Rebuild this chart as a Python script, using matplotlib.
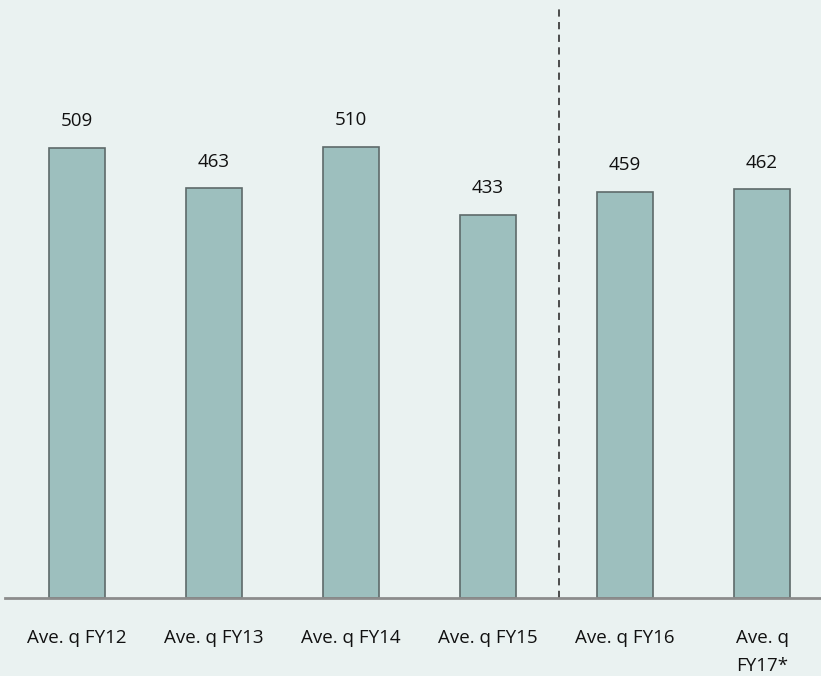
import matplotlib.pyplot as plt

categorias = ['Ave. q FY12', 'Ave. q FY13', 'Ave. q FY14', 'Ave. q FY15', 'Ave. q FY16', 'Ave. q\nFY17*']
valores = [509, 463, 510, 433, 459, 462]

plt.rcParams['font.family'] = ['Open Sans', 'DejaVu Sans']

fondo = '#EAF2F1'
fig = plt.figure(figsize=(8.21, 6.76), dpi=100, facecolor=fondo)
ax = fig.add_axes([5 / 821, 78 / 676, 816 / 821, 598 / 676])
ax.set_facecolor(fondo)

x = list(range(len(categorias)))
ax.bar(x, valores, width=0.41, color='#9DBFBE', edgecolor='#5E6A6A', linewidth=1.2, zorder=2)

for xi, v in zip(x, valores):
    ax.text(xi, v + 20, str(v), ha='center', va='bottom', fontsize=13.5, color='#111111')

# linea divisoria
ax.axvline(3.52, ymin=0, ymax=1 - 8 / 598, color='#3F3F3F', linestyle=(0, (4, 3)), linewidth=1.3, zorder=1)

ax.set_xlim(-0.526, 5.43)
ax.set_ylim(0, 676)
for s in ['top', 'right', 'left']:
    ax.spines[s].set_visible(False)
ax.spines['bottom'].set_color('#8C8C8C')
ax.spines['bottom'].set_linewidth(2)
ax.set_yticks([])
ax.set_xticks(x)
ax.set_xticklabels(categorias, fontsize=13.5, color='#111111', va='top', linespacing=1.75)
ax.tick_params(axis='x', length=0, pad=22)

fig.savefig('out.png', dpi=100, facecolor=fondo)
